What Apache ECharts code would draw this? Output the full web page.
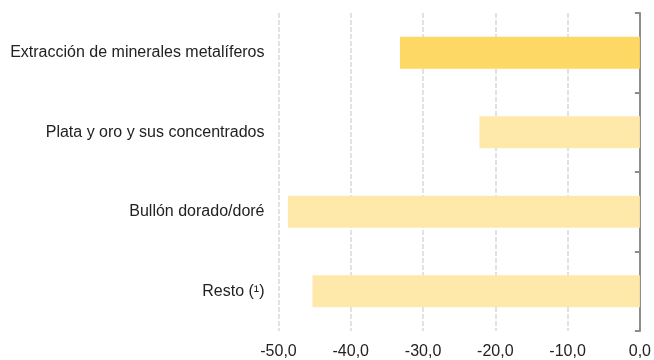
<!DOCTYPE html>
<html>
<head>
<meta charset="utf-8">
<script src="https://cdn.jsdelivr.net/npm/echarts@6/dist/echarts.min.js"></script>
<style>
  html, body { margin: 0; padding: 0; background: #fff; }
  #chart { width: 654px; height: 360px; }
</style>
</head>
<body>
<div id="chart"></div>
<script>
// Variación por producto (%)
const categories = [
  'Extracción de minerales metalíferos',
  'Plata y oro y sus concentrados',
  'Bullón dorado/doré',
  'Resto (¹)'
];
const values = [-33.2, -22.2, -48.7, -45.3];
const barColors = ['#FDD865', '#FEE9AB', '#FEE9AB', '#FEE9AB'];
const xMin = -50, xMax = 0, xStep = 10;

const fontFamily = '"Liberation Sans", Arial, Helvetica, sans-serif';
const chart = echarts.init(document.getElementById('chart'), null, { renderer: 'canvas' });

chart.setOption({
  animation: false,
  grid: { left: 278.5, right: 11, top: 13, bottom: 29, containLabel: false },
  xAxis: {
    type: 'value',
    min: xMin, max: xMax, interval: xStep,
    axisLine: { show: false },
    axisTick: { show: false },
    splitLine: {
      show: true,
      lineStyle: { color: '#d9d9d9', width: 1.5, type: [5, 2] }
    },
    axisLabel: {
      color: '#222',
      fontFamily: fontFamily,
      fontSize: 16,
      margin: 13,
      formatter: v => v.toFixed(1).replace('.', ',')
    }
  },
  yAxis: [
    {
      type: 'category',
      data: categories,
      inverse: true,
      position: 'left',
      axisLine: { show: false, onZero: false },
      axisTick: { show: false },
      axisLabel: {
        color: '#222',
        fontFamily: fontFamily,
        fontSize: 16,
        margin: 14
      }
    },
    {
      type: 'category',
      data: categories,
      inverse: true,
      position: 'right',
      axisLine: { show: true, onZero: false, lineStyle: { color: '#8c8c8c', width: 2 } },
      axisTick: { show: true, inside: true, length: 5, lineStyle: { color: '#8c8c8c', width: 2 } },
      axisLabel: { show: false }
    }
  ],
  series: [{
    type: 'bar',
    yAxisIndex: 0,
    data: values.map((v, i) => ({ value: v, itemStyle: { color: barColors[i] } })),
    barWidth: 32
  }]
});
</script>
</body>
</html>
